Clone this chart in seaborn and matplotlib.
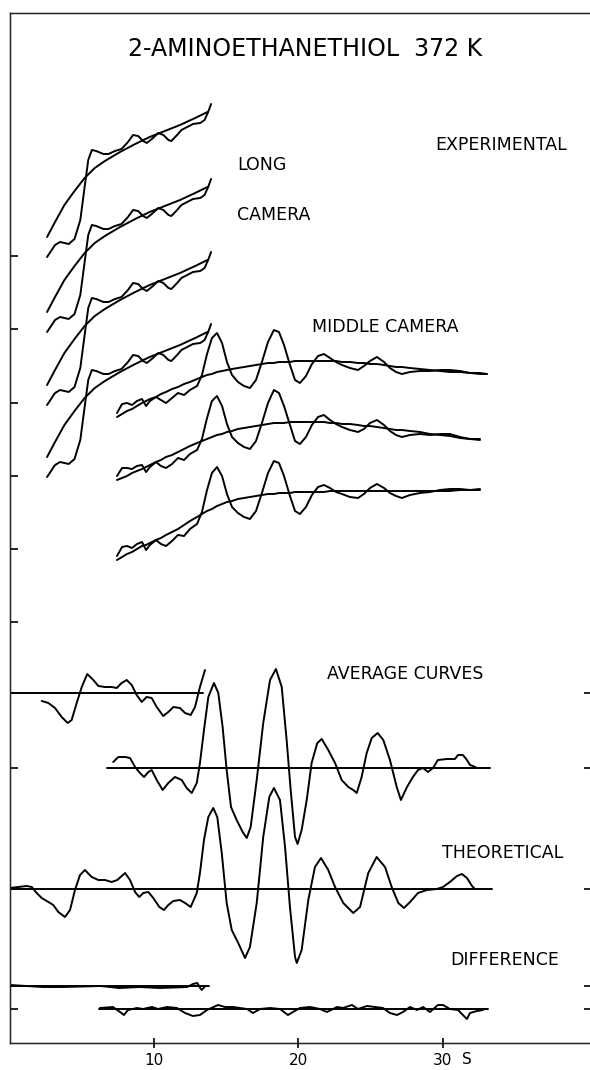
import numpy as np
import pandas as pd
import seaborn as sns
import matplotlib.pyplot as plt

sns.set_style('white')
plt.rcParams['font.family'] = ['DejaVu Sans']
plt.rcParams['text.color'] = 'black'

# experimental, long camera: one trace shape, four plates stacked
long_s = [2.6, 3.15, 3.5, 4.1, 4.5, 4.9, 5.2, 5.45, 5.7, 6.0, 6.5, 6.85, 7.3, 7.75, 8.2, 8.55,
          8.9, 9.25, 9.5, 9.85, 10.3, 10.65, 11.0, 11.2, 11.6, 11.9, 12.3, 12.7, 13.2, 13.5, 13.75, 13.95]
long_int = [0, 12, 15, 13, 18, 37, 70, 97, 107, 106, 103, 103, 106, 108, 115, 122,
            121, 116, 114, 118, 124, 122, 117, 116, 122, 127, 130, 133, 134, 137, 145, 153]
long_bg_s = [2.6, 3.15, 3.8, 4.5, 5.2, 5.9, 6.6, 7.65, 8.7, 9.7, 10.75, 11.8, 12.85, 13.7]
long_bg = [20, 35, 52, 66, 79, 89, 96, 105, 113, 120, 126, 132, 139, 145]
long_levels = [786, 711, 638, 566]

# experimental, middle camera: molecular part and the three plate backgrounds
mid_s = [7.44, 7.79, 8.13, 8.48, 8.82, 9.17, 9.45, 9.72, 10.14, 10.48, 10.83, 11.25, 11.66, 12.08,
         12.49, 12.98, 13.32, 13.67, 14.01, 14.36, 14.71, 15.05, 15.40, 15.81, 16.23, 16.64, 17.06,
         17.47, 17.89, 18.30, 18.65, 19.00, 19.41, 19.76, 20.10, 20.52, 20.93, 21.35, 21.76, 22.18,
         22.60, 23.01, 23.56, 24.12, 24.53, 24.95, 25.43, 25.92, 26.33, 26.75, 27.16, 27.72, 28.41,
         29.10, 29.79, 30.48, 31.18, 31.87, 32.56, 33.04]
mid_mol = [4, 10, 8, 4, 5, 4, -5, -2, 0, -6, -11, -9, -6, -11, -8, -7, 2, 21, 36, 39, 28, 8, -6, -14,
           -19, -22, -15, 2, 21, 33, 30, 17, -3, -19, -22, -15, -3, 5, 7, 3, -1, -3, -6, -7, -3, 3, 7,
           3, -2, -5, -7, -4, -2, -1, 1, 2, 1, 0, 1, 0]
mid_bg1 = [626, 629, 632, 634, 637, 640, 642, 644, 646, 649, 651, 654, 656, 659, 661, 664, 666, 668,
           669, 671, 672, 673, 674, 675, 676, 677, 678, 679, 680, 680, 681, 681, 681, 682, 682, 682,
           682, 682, 682, 682, 682, 681, 681, 680, 680, 679, 679, 678, 677, 676, 676, 675, 674, 673,
           672, 671, 671, 670, 669, 669]
mid_bg2 = [563, 565, 567, 570, 572, 574, 576, 578, 581, 583, 586, 588, 591, 594, 597, 600, 602, 604,
           606, 608, 609, 611, 612, 614, 615, 616, 617, 618, 619, 620, 620, 620, 621, 621, 621, 621,
           621, 621, 621, 620, 620, 619, 619, 618, 617, 617, 616, 615, 614, 613, 613, 612, 611, 609,
           608, 607, 605, 604, 603, 602]
mid_bg3 = [483, 486, 489, 491, 494, 497, 498, 500, 503, 505, 508, 511, 514, 518, 522, 526, 529, 532,
           534, 537, 539, 541, 542, 544, 545, 546, 547, 548, 549, 549, 550, 550, 550, 551, 551, 551,
           551, 551, 551, 552, 552, 552, 552, 552, 552, 552, 552, 552, 552, 552, 552, 552, 552, 552,
           552, 552, 553, 553, 553, 553]
mid_npts = [60, 59, 59]

# average curves, theoretical and difference (each relative to its own zero line)
la_s = [2.23, 2.69, 3.15, 3.61, 4.03, 4.30, 4.65, 5.00, 5.38, 5.80, 6.15, 6.61, 7.07, 7.42, 7.76, 8.11,
        8.46, 8.80, 9.15, 9.49, 9.84, 10.19, 10.64, 10.99, 11.34, 11.80, 12.15, 12.54, 12.84, 13.18, 13.53]
la_y = [-8, -10, -15, -24, -30, -27, -10, 6, 19, 13, 7, 6, 6, 5, 10, 13, 8, -2, -9, -4, -5, -14, -23,
        -19, -14, -15, -20, -22, -14, 6, 23]
ma_s = [7.18, 7.53, 8.0, 8.34, 8.69, 9.03, 9.31, 9.61, 9.84, 10.19, 10.60, 10.99, 11.45, 11.92, 12.26,
        12.61, 12.96, 13.18, 13.46, 13.76, 14.15, 14.45, 14.75, 15.03, 15.33, 15.72, 16.14, 16.42, 16.69,
        17.11, 17.56, 18.03, 18.44, 18.84, 19.18, 19.46, 19.76, 19.94, 20.22, 20.57, 20.91, 21.30, 21.61,
        22.06, 22.53, 22.99, 23.45, 23.79, 24.03, 24.37, 24.72, 25.07, 25.48, 25.87, 26.33, 26.80, 27.09,
        27.51, 27.92, 28.27, 28.62, 28.96, 29.31, 29.65, 30.28, 30.83, 31.04, 31.38, 31.66, 31.87, 32.08, 32.35]
ma_y = [6, 11, 11, 10, 1, -5, -9, -4, -2, -12, -22, -15, -9, -12, -20, -25, -15, 5, 38, 71, 85, 75, 41,
        -2, -39, -52, -64, -70, -59, -12, 45, 88, 99, 81, 28, -22, -69, -76, -62, -32, 5, 25, 29, 18, 5,
        -12, -19, -22, -25, -9, 15, 30, 35, 28, 8, -19, -32, -19, -9, -2, 0, -4, 0, 8, 9, 9, 13, 13, 8, 3, 2, 0]
th_s = [0.03, 0.61, 1.19, 1.54, 1.88, 2.23, 2.69, 3.03, 3.38, 3.84, 4.19, 4.53, 4.88, 5.22, 5.69, 6.15,
        6.61, 7.07, 7.46, 8.0, 8.34, 8.69, 8.98, 9.26, 9.61, 9.95, 10.37, 10.69, 10.99, 11.34, 11.80, 12.15,
        12.54, 12.96, 13.18, 13.46, 13.76, 14.10, 14.38, 14.69, 15.03, 15.38, 15.83, 16.30, 16.64, 17.11,
        17.56, 17.98, 18.30, 18.72, 19.07, 19.41, 19.76, 19.88, 20.22, 20.68, 21.14, 21.56, 22.06, 22.53,
        23.10, 23.79, 24.26, 24.83, 25.41, 25.99, 26.45, 26.91, 27.30, 27.72, 28.27, 28.89, 29.58, 30.0,
        30.48, 30.97, 31.31, 31.66, 32.01, 32.21]
th_y = [1, 2, 3, 2, -4, -9, -13, -16, -23, -28, -21, -1, 14, 19, 12, 9, 9, 7, 9, 16, 9, -3, -8, -4, -3,
        -9, -18, -21, -16, -12, -11, -14, -18, -4, 16, 49, 72, 81, 72, 36, -14, -41, -54, -69, -58, -14,
        52, 92, 101, 89, 42, -18, -68, -74, -61, -11, 22, 31, 19, 2, -14, -24, -18, 16, 32, 22, 2, -14,
        -19, -13, -4, -1, 0, 2, 7, 13, 15, 11, 3, 0]
dl_s = [0.03, 2.3, 3.7, 6.3, 7.6, 9.0, 10.4, 12.3, 12.7, 13.0, 13.2, 13.3, 13.5]
dl_y = [1, -1, -1, 0, -2, -1, -2, -1, 2, 3, -2, -4, -1]
dm_s = [6.26, 7.16, 7.65, 7.92, 8.20, 8.82, 9.24, 9.86, 10.28, 10.90, 11.59, 12.15, 12.70, 13.18, 13.67,
        14.43, 14.91, 15.47, 15.95, 16.44, 16.85, 17.34, 18.03, 18.72, 19.27, 19.62, 20.10, 20.80, 21.49,
        21.97, 22.67, 23.08, 23.70, 24.12, 24.74, 25.29, 25.85, 26.33, 26.82, 27.23, 27.72, 28.20, 28.62,
        29.10, 29.65, 30.0, 30.48, 31.04, 31.38, 31.66, 31.87, 32.35, 32.77]
dm_y = [1, 2, -3, -6, -1, 1, 0, 2, 0, 2, 1, -4, -7, -6, -1, 4, 2, 2, 1, 0, -4, 0, 1, 0, -6, -3, 1, 2,
        0, -3, 2, 1, 4, 0, 3, 2, 1, -4, -6, -3, 2, -1, 2, -3, 4, 4, 0, -1, -6, -10, -4, -2, -1]

# zero line level and s range for each lower curve
lower = {
    'avg_long': (la_s, la_y, 350, 0.0, 13.4),
    'avg_mid': (ma_s, ma_y, 275, 6.75, 33.25),
    'theory': (th_s, th_y, 154, 0.0, 33.4),
    'diff_long': (dl_s, dl_y, 57, 0.0, 13.8),
    'diff_mid': (dm_s, dm_y, 34, 6.2, 33.1),
}
left_ticks = [787, 714, 640, 567, 494, 421, 350, 275, 57, 34]
right_ticks = [350, 275, 154, 57, 34]

rows = []


def add(name, s, y):
    rows.append(pd.DataFrame({'s': s, 'y': y, 'curve': name}))


for k, lev in enumerate(long_levels):
    add(f'long{k}', long_s, np.array(long_int) + lev)
    add(f'longbg{k}', long_bg_s, np.array(long_bg) + lev)
for k, bg in enumerate([mid_bg1, mid_bg2, mid_bg3]):
    n = mid_npts[k]
    add(f'mid{k}', mid_s[:n], (np.array(bg) + np.array(mid_mol))[:n])
    add(f'midbg{k}', mid_s[:n], bg[:n])
for name, (s, y, lev, s0, s1) in lower.items():
    add(name, s, np.array(y) + lev)
    add(name + '_zero', [s0, s1], [lev, lev])
df = pd.concat(rows, ignore_index=True)

fig = plt.figure(figsize=(5.9, 10.7), dpi=100)
ax = fig.add_axes([9.5 / 590, 27 / 1070, 582.3 / 590, 1030 / 1070])
sns.lineplot(data=df, x='s', y='y', units='curve', estimator=None, sort=False,
             color='black', lw=1.4, ax=ax, legend=False)
ax.set_xlim(0, 40.3)
ax.set_ylim(0, 1030)
ax.set_xlabel('')
ax.set_ylabel('')
for sp in ax.spines.values():
    sp.set_color('black')
    sp.set_linewidth(1.0)

ax.set_xticks([10, 20, 30])
ax.set_xticklabels(['10', '20', '30'])
ax.tick_params(axis='x', bottom=True, direction='inout', length=7, width=1.2,
               pad=3.5, labelsize=11, colors='black')
ax.set_yticks(left_ticks)
ax.set_yticklabels([])
ax.tick_params(axis='y', left=True, direction='in', length=6, width=1.2, colors='black')
ax.text(31.3, -0.0087, 'S', transform=ax.get_xaxis_transform(), ha='left', va='top',
        fontsize=11, color='black')

ax2 = ax.twinx()
ax2.set_ylim(0, 1030)
ax2.set_yticks(right_ticks)
ax2.set_yticklabels([])
ax2.tick_params(axis='y', right=True, direction='in', length=6, width=1.2, colors='black')
ax2.grid(False)

ax.text(20.45, 987, '2-AMINOETHANETHIOL  372 K', ha='center', va='baseline', fontsize=17,
        color='black')
labels = [
    (29.45, 893, 'EXPERIMENTAL'),
    (15.74, 873, 'LONG'),
    (15.74, 823, 'CAMERA'),
    (20.93, 711, 'MIDDLE CAMERA'),
    (21.97, 364, 'AVERAGE CURVES'),
    (29.93, 185, 'THEORETICAL'),
    (30.48, 78, 'DIFFERENCE'),
]
for x, y, t in labels:
    ax.text(x, y, t, ha='left', va='baseline', fontsize=12.5, color='black')

fig.savefig('out.png', dpi=100)
